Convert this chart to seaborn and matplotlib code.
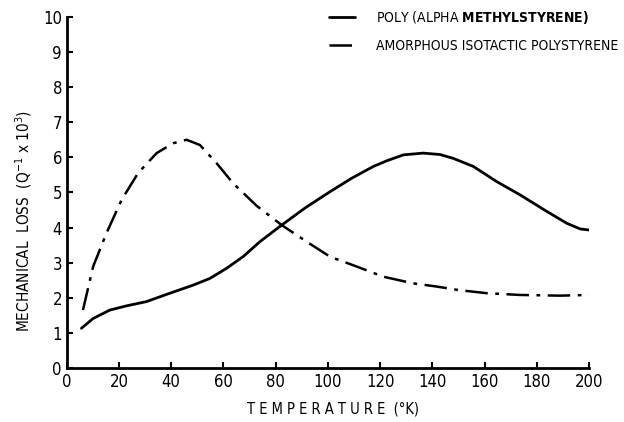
import numpy as np
import pandas as pd
import matplotlib
matplotlib.use("Agg")
import matplotlib.pyplot as plt
import seaborn as sns

# valeurs
temp_poly = [5.6, 10.1, 16.5, 22.9, 30.5, 39.5, 48.4, 54.8, 61.2, 67.5, 74, 82.3, 91.5, 100.8,
             109, 117.4, 122.5, 128.9, 136.5, 142.9, 148, 155.7, 164.6, 173.6, 183.8, 191.5, 196.6, 200]
loss_poly = [1.13, 1.41, 1.65, 1.77, 1.89, 2.13, 2.36, 2.55, 2.84, 3.17, 3.6, 4.07, 4.57, 5.02,
             5.4, 5.74, 5.9, 6.07, 6.12, 6.08, 5.97, 5.74, 5.31, 4.93, 4.46, 4.12, 3.96, 3.93]

temp_iso = [6.2, 10.1, 15.2, 21, 27.3, 34.4, 40.7, 45.9, 51, 57.4, 63.7, 72.7, 82.3, 91.8,
            100.8, 111, 121.2, 132.7, 141.6, 150, 160.8, 173.6, 188.9, 200]
loss_iso = [1.65, 2.89, 3.84, 4.79, 5.55, 6.12, 6.4, 6.5, 6.35, 5.83, 5.26, 4.62, 4.07, 3.6,
            3.17, 2.89, 2.6, 2.41, 2.32, 2.22, 2.13, 2.08, 2.06, 2.08]

label_poly = "POLY (ALPHA $\\mathbf{METHYLSTYRENE)}$"
label_iso = "AMORPHOUS ISOTACTIC POLYSTYRENE"

x_ticks = list(range(0, 201, 20))
y_ticks = list(range(0, 11))

sns.set_style("ticks")
plt.rcParams["font.family"] = ["DejaVu Sans"]
plt.rcParams["font.stretch"] = "condensed"
plt.rcParams["text.color"] = "black"
plt.rcParams["axes.labelcolor"] = "black"

fig = plt.figure(figsize=(6.24, 4.22), dpi=100)
ax = fig.add_axes([0.107, 0.128, 0.837, 0.832])

df_poly = pd.DataFrame({"temp": temp_poly, "loss": loss_poly})
df_iso = pd.DataFrame({"temp": temp_iso, "loss": loss_iso})

sns.lineplot(data=df_poly, x="temp", y="loss", ax=ax, color="black", lw=2.0,
             label=label_poly, sort=False)
sns.lineplot(data=df_iso, x="temp", y="loss", ax=ax, color="black", lw=1.8,
             label=label_iso, sort=False)
ax.lines[1].set_dashes([9, 3, 1.5, 3])

ax.set_xlim(0, 200)
ax.set_ylim(0, 10)
ax.set_xticks(x_ticks)
ax.set_yticks(y_ticks)
ax.tick_params(direction="in", length=4, width=1.5, labelsize=12, colors="black")
sns.despine(ax=ax)
for s in ["left", "bottom"]:
    ax.spines[s].set_linewidth(2)
    ax.spines[s].set_color("black")

ax.set_xlabel("T E M P E R A T U R E  (°K)", fontsize=10.5)
ax.set_ylabel("MECHANICAL  LOSS  (Q$^{-1}$ x 10$^3$)", fontsize=11)
ax.xaxis.set_label_coords(0.51, -0.095)
ax.yaxis.set_label_coords(-0.062, 0.42)

leg = fig.legend(loc="upper left", bbox_to_anchor=(0.527, 0.978), frameon=False,
                 fontsize=10, handlelength=1.9, handletextpad=1.5, labelspacing=0.9,
                 borderpad=0, borderaxespad=0)
ax.get_legend().remove()
for t in leg.get_texts():
    t.set_color("black")

plt.savefig("out.png", dpi=100, facecolor="white")
plt.close()
